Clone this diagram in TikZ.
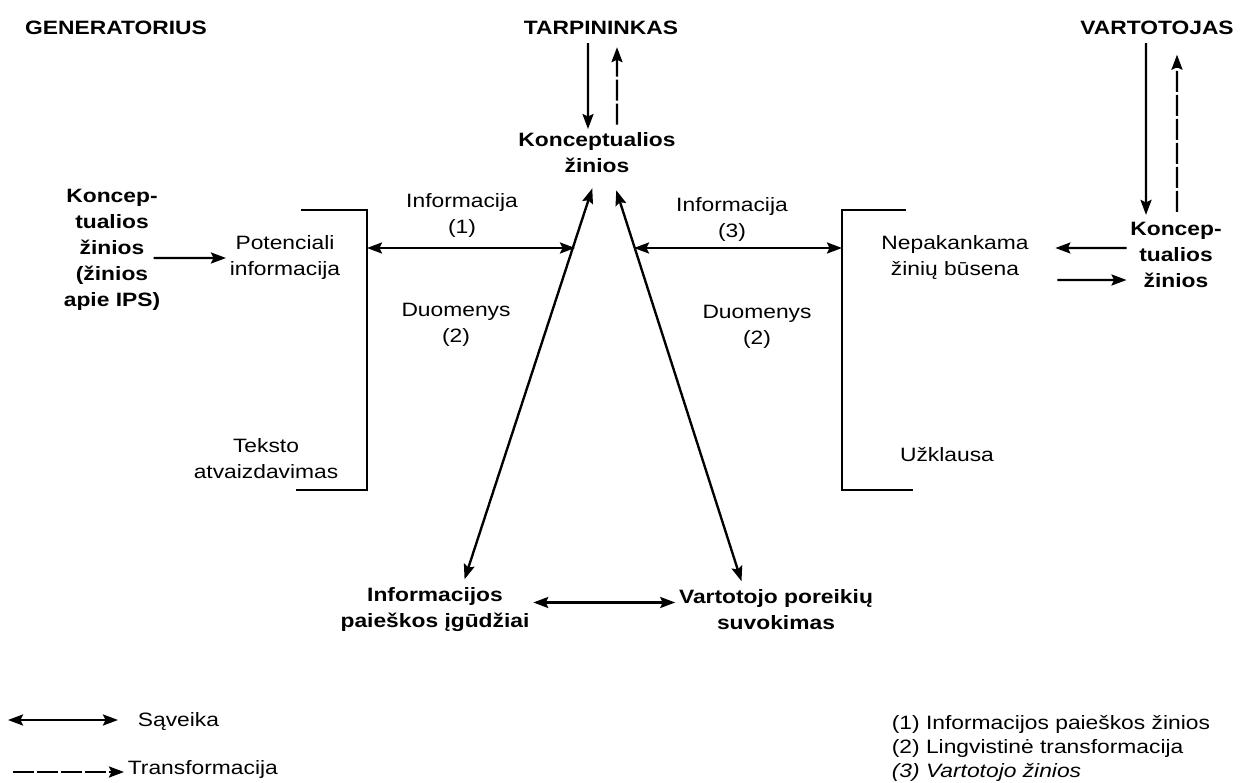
\documentclass[tikz,border=0pt]{standalone}
\usepackage{fontspec}
\setmainfont{Liberation Sans}[FakeStretch=1.18]
\usetikzlibrary{arrows.meta, positioning}

\begin{document}
\begin{tikzpicture}[x=0.02cm, y=-0.02cm,
  txt/.style={align=center, inner sep=2pt, font=\fontsize{11}{14.8}\selectfont},
  btxt/.style={txt, font=\bfseries\fontsize{11}{14.8}\selectfont},
  flow/.style={line width=1.35pt, -{Stealth[length=0.3cm, width=0.22cm, inset=0.05cm]}},
  saveika/.style={flow, {Stealth[length=0.3cm, width=0.22cm, inset=0.05cm]}-{Stealth[length=0.3cm, width=0.22cm, inset=0.05cm]}},
  transf/.style={flow, dash pattern=on 0.42cm off 0.06cm},
  bracket/.style={line width=1.6pt}]
  % keep the page the size of the picture
  \useasboundingbox (0,0) rectangle (1240,783);

  % the three actors
  \node[btxt] (gen) at (116,28) {GENERATORIUS};
  \node[btxt] (tarp) at (601,28) {TARPININKAS};
  \node[btxt] (vart) at (1157,28) {VARTOTOJAS};

  % middle part
  \node[btxt] (konc) at (597,153) {Konceptualios\\žinios};
  \node[txt] (inf1) at (462,216) {Informacija\\(1)};
  \node[txt] (inf3) at (732,220) {Informacija\\(3)};
  \node[txt] (duo1) at (456,325) {Duomenys\\(2)};
  \node[txt] (duo2) at (757,327) {Duomenys\\(2)};
  \node[btxt] (ipi) at (435,610) {Informacijos\\paieškos įgūdžiai};
  \node[btxt] (vps) at (776,610) {Vartotojo poreikių\\suvokimas};

  % generator side
  \node[btxt] (kL) at (112,250) {Koncep-\\tualios\\žinios\\(žinios\\apie IPS)};
  \node[txt] (pot) at (285,258) {Potenciali\\informacija};
  \node[txt] (tek) at (266,459) {Teksto\\atvaizdavimas};

  % user side
  \node[txt] (nep) at (955,258) {Nepakankama\\žinių būsena};
  \node[txt] (uzk) at (947,455) {Užklausa};
  \node[btxt] (kR) at (1176,255) {Koncep-\\tualios\\žinios};

  % brackets
  \draw[bracket] (301,210) -- (367,210) -- (367,490) -- (296,490);
  \draw[bracket] (906,210) -- (842,210) -- (842,490) -- (913,490);

  %end points on the brackets and on the triangle sides
  \coordinate (brL) at (367,248);
  \coordinate (trL) at (575,248);
  \coordinate (trR) at (634,248);
  \coordinate (brR) at (842,248);

  % arrows of the actors
  \draw[flow, shorten <=0.09cm] ([xshift=-0.26cm]tarp.south) -- ([xshift=-0.18cm]konc.north);
  \draw[transf, shorten <=0.09cm, shorten >=0.17cm] ([xshift=0.4cm]konc.north) -- ([xshift=0.32cm]tarp.south);
  \draw[flow, shorten <=0.09cm, shorten >=0.07cm] ([xshift=-0.22cm]vart.south) -- ([xshift=-0.6cm]kR.north);
  \draw[transf, shorten <=0.13cm, shorten >=0.32cm] ([xshift=0.02cm]kR.north) -- ([xshift=0.4cm]vart.south);
  \draw[flow] ([shift={(-0.21cm,-0.16cm)}]kL.east) -- (pot.west);
  \draw[flow, shorten >=0.46cm] ([yshift=0.14cm]kR.west) -- ([yshift=0.2cm]nep.east);
  \draw[flow, shorten <=0.5cm] ([yshift=-0.44cm]nep.east) -- ([yshift=-0.5cm]kR.west);

  % interaction
  \draw[saveika] (brL) -- (trL);
  \draw[saveika] (trR) -- (brR);
  \draw[saveika, shorten <=0.24cm, shorten >=0.1cm] ([xshift=-0.02cm]konc.south) -- ([xshift=0.56cm]ipi.north);
  \draw[saveika, shorten <=0.28cm, shorten >=0.1cm] ([xshift=0.3cm]konc.south) -- ([xshift=-0.66cm]vps.north);
  \draw[saveika] ([yshift=0.15cm]ipi.east) -- ([yshift=0.15cm]vps.west);

  % legend
  \coordinate (lgA) at (8,720);
  \coordinate (lgB) at (118,720);
  \coordinate (lgC) at (13,772);
  \draw[saveika] (lgA) -- (lgB);
  \node[txt, anchor=west] (sav) at (134,722) {Sąveika};
  \node[txt, anchor=west] (trf) at (124,769) {Transformacija};
  \draw[transf] (lgC) -- (lgC -| trf.west);
  \node[txt, anchor=west] (n1) at (888,724) {(1) Informacijos paieškos žinios};
  \node[txt, anchor=west] (n2) at (888,748) {(2) Lingvistinė transformacija};
  \node[txt, anchor=west] (n3) at (888,772) {\itshape (3) Vartotojo žinios};
\end{tikzpicture}
\end{document}
